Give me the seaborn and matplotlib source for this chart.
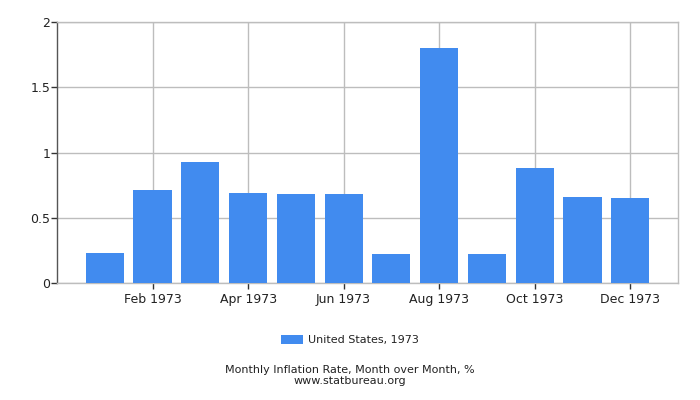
import pandas as pd
import matplotlib
matplotlib.use("Agg")
import matplotlib.pyplot as plt
import seaborn as sns
from matplotlib.patches import Patch

months = ["Jan 1973", "Feb 1973", "Mar 1973", "Apr 1973", "May 1973", "Jun 1973",
          "Jul 1973", "Aug 1973", "Sep 1973", "Oct 1973", "Nov 1973", "Dec 1973"]
rates = [0.23, 0.71, 0.93, 0.69, 0.68, 0.68, 0.22, 1.80, 0.22, 0.88, 0.66, 0.65]
series_name = "United States, 1973"

bar_color = "#418BEF"
grid_color = "#BDBDBD"
text_color = "#222222"

df = pd.DataFrame({"month": months, "rate": rates})

sns.set_style("white", {"xtick.bottom": True, "ytick.left": True})
plt.rcParams["font.family"] = ["DejaVu Sans"]

fig = plt.figure(figsize=(7, 4), dpi=100)
ax = fig.add_axes([57 / 700, 1 - 283 / 400, (678 - 57) / 700, (283 - 22) / 400])

sns.barplot(data=df, x="month", y="rate", color=bar_color, width=0.8,
            saturation=1, edgecolor="none", linewidth=0, ax=ax, zorder=3)

ax.set_xlim(-1, 12)
ax.set_ylim(0, 2)
ax.set_yticks([0, 0.5, 1, 1.5, 2])
ax.set_yticklabels(["0", "0.5", "1", "1.5", "2"])
tick_pos = list(range(1, 12, 2))
ax.set_xticks(tick_pos)
ax.set_xticklabels([months[i] for i in tick_pos])

ax.grid(True, color=grid_color, linewidth=1, zorder=0)
ax.set_axisbelow(True)
ax.set_xlabel("")
ax.set_ylabel("")

for side in ["top", "right", "bottom"]:
    ax.spines[side].set_color(grid_color)
    ax.spines[side].set_linewidth(1)
ax.spines["left"].set_color("#555555")
ax.spines["left"].set_linewidth(1)

ax.tick_params(axis="both", which="both", length=4, width=1, color="#333333",
               labelsize=9, labelcolor=text_color, direction="out", pad=3,
               bottom=True, left=True)
ax.tick_params(axis="y", pad=1)

handles = [Patch(facecolor=bar_color, edgecolor="none", label=series_name)]
fig.legend(handles=handles, loc="center", bbox_to_anchor=(0.5, 1 - 340 / 400),
           frameon=False, fontsize=8, handlelength=2.0, handleheight=0.9,
           handletextpad=0.4, labelcolor=text_color)

fig.text(0.5, 1 - 370 / 400, "Monthly Inflation Rate, Month over Month, %",
         ha="center", va="center", fontsize=8, color=text_color)
fig.text(0.5, 1 - 381 / 400, "www.statbureau.org",
         ha="center", va="center", fontsize=8, color=text_color)

fig.savefig("out.png", dpi=100)
